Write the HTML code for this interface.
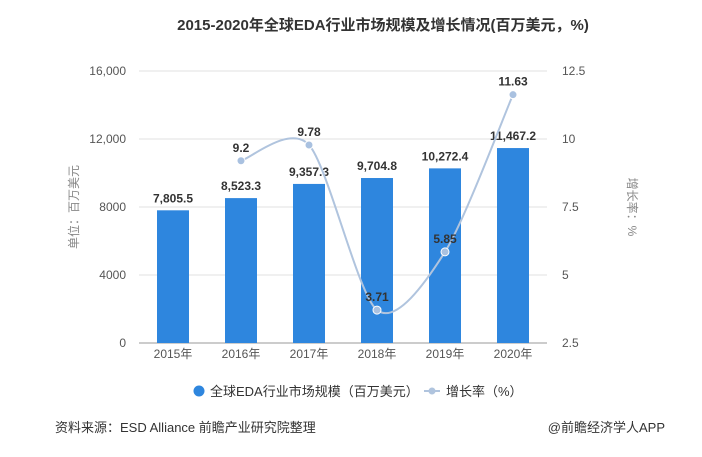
<!DOCTYPE html>
<html><head><meta charset="utf-8"><style>
body{margin:0;background:#fff;width:702px;height:452px;overflow:hidden;font-family:"Liberation Sans","Noto Sans CJK SC",sans-serif;}
</style></head><body>
<svg width="702" height="452" xmlns="http://www.w3.org/2000/svg" font-family="Liberation Sans, Noto Sans CJK SC, sans-serif">
<text x="383" y="30" text-anchor="middle" font-size="15" font-weight="bold" fill="#333">2015-2020年全球EDA行业市场规模及增长情况(百万美元，%)</text>
<g id="grid"></g>
<g id="bars"></g>
<g id="line"></g>
<text transform="translate(78,207) rotate(-90)" text-anchor="middle" font-size="12" fill="#888">单位：百万美元</text>
<text transform="translate(628,207) rotate(90)" text-anchor="middle" font-size="12" fill="#888">增长率：%</text>
<g>
<circle cx="199" cy="391" r="5.5" fill="#2e86de"/>
<text x="210" y="396" font-size="13" fill="#333">全球EDA行业市场规模（百万美元）</text>
<line x1="424" y1="391" x2="440" y2="391" stroke="#b0c4de" stroke-width="2"/>
<circle cx="432" cy="391" r="3.5" fill="#b0c4de"/>
<text x="446" y="396" font-size="13" fill="#333">增长率（%）</text>
</g>
<text x="55" y="432" font-size="13" fill="#333">资料来源：ESD Alliance 前瞻产业研究院整理</text>
<text x="665" y="432" text-anchor="end" font-size="13" fill="#333">@前瞻经济学人APP</text>
</svg>
<script>
const categories=["2015年","2016年","2017年","2018年","2019年","2020年"];
const marketSize=[7805.5,8523.3,9357.3,9704.8,10272.4,11467.2];
const sizeLabels=["7,805.5","8,523.3","9,357.3","9,704.8","10,272.4","11,467.2"];
const growth=[null,9.2,9.78,3.71,5.85,11.63];
const growthLabels=["","9.2","9.78","3.71","5.85","11.63"];
const leftTicks=[0,4000,8000,12000,16000];
const leftTickLabels=["0","4000","8000","12,000","16,000"];
const rightTicks=[2.5,5,7.5,10,12.5];
const rightTickLabels=["2.5","5","7.5","10","12.5"];
const NS="http://www.w3.org/2000/svg";
const X0=139,X1=547,YT=71,YB=343;
const band=(X1-X0)/categories.length;
const xc=i=>X0+band*(i+0.5);
const yL=v=>YB-(v/16000)*(YB-YT);
const yR=v=>YB-((v-2.5)/10)*(YB-YT);
function mk(tag,attrs,parent){const e=document.createElementNS(NS,tag);for(const k in attrs)e.setAttribute(k,attrs[k]);parent.appendChild(e);return e;}
const grid=document.getElementById('grid');
leftTicks.forEach((t,i)=>{
 const y=yL(t);
 const l=mk('line',{x1:X0,x2:X1,y1:y,y2:y,stroke:i==0?'#999':'#e0e0e0','stroke-width':1},grid);
 
 
 const tx=mk('text',{x:126,y:y+4,'text-anchor':'end','font-size':12,fill:'#555'},grid);
 tx.textContent=leftTickLabels[i];
 
 
});
rightTicks.forEach((t,i)=>{
 const tx=mk('text',{x:562,y:yR(t)+4,'font-size':12,fill:'#555'},grid);
 tx.textContent=rightTickLabels[i];
 
 
});
categories.forEach((c,i)=>{
 const tx=mk('text',{x:xc(i),y:358,'text-anchor':'middle','font-size':12,fill:'#555'},grid);
 tx.textContent=c;
 
 
});
const bars=document.getElementById('bars');
marketSize.forEach((v,i)=>{
 const r=mk('rect',{x:xc(i)-16,y:yL(v),width:32,height:YB-yL(v),fill:'#2e86de'},bars);
 
 
 const t=mk('text',{x:xc(i),y:yL(v)-8,'text-anchor':'middle','font-size':12,'font-weight':'bold',fill:'#333'},bars);
 t.textContent=sizeLabels[i];
 
 
});
const lg=document.getElementById('line');
const pts=[];growth.forEach((v,i)=>{if(v!==null)pts.push([xc(i),yR(v)]);});
let d='M'+pts[0][0]+','+pts[0][1];
for(let i=0;i<pts.length-1;i++){
 const p0=pts[Math.max(0,i-1)],p1=pts[i],p2=pts[i+1],p3=pts[Math.min(pts.length-1,i+2)];
 const k=0.28/2;
 const c1=[p1[0]+(p2[0]-p0[0])*k,p1[1]+(p2[1]-p0[1])*k];
 const c2=[p2[0]-(p3[0]-p1[0])*k,p2[1]-(p3[1]-p1[1])*k];
 d+=' C'+c1+' '+c2+' '+p2;
}
const path=mk('path',{d:d,fill:'none',stroke:'#b0c4de','stroke-width':2},lg);


growth.forEach((v,i)=>{
 if(v===null)return;
 const c=mk('circle',{cx:xc(i),cy:yR(v),r:4,fill:'#a9c1e0',stroke:'#fff','stroke-width':1},lg);
 
 
 const t=mk('text',{x:xc(i),y:yR(v)-9,'text-anchor':'middle','font-size':12,'font-weight':'bold',fill:'#333'},lg);
 t.textContent=growthLabels[i];
 
 
});
</script>
</body></html>
